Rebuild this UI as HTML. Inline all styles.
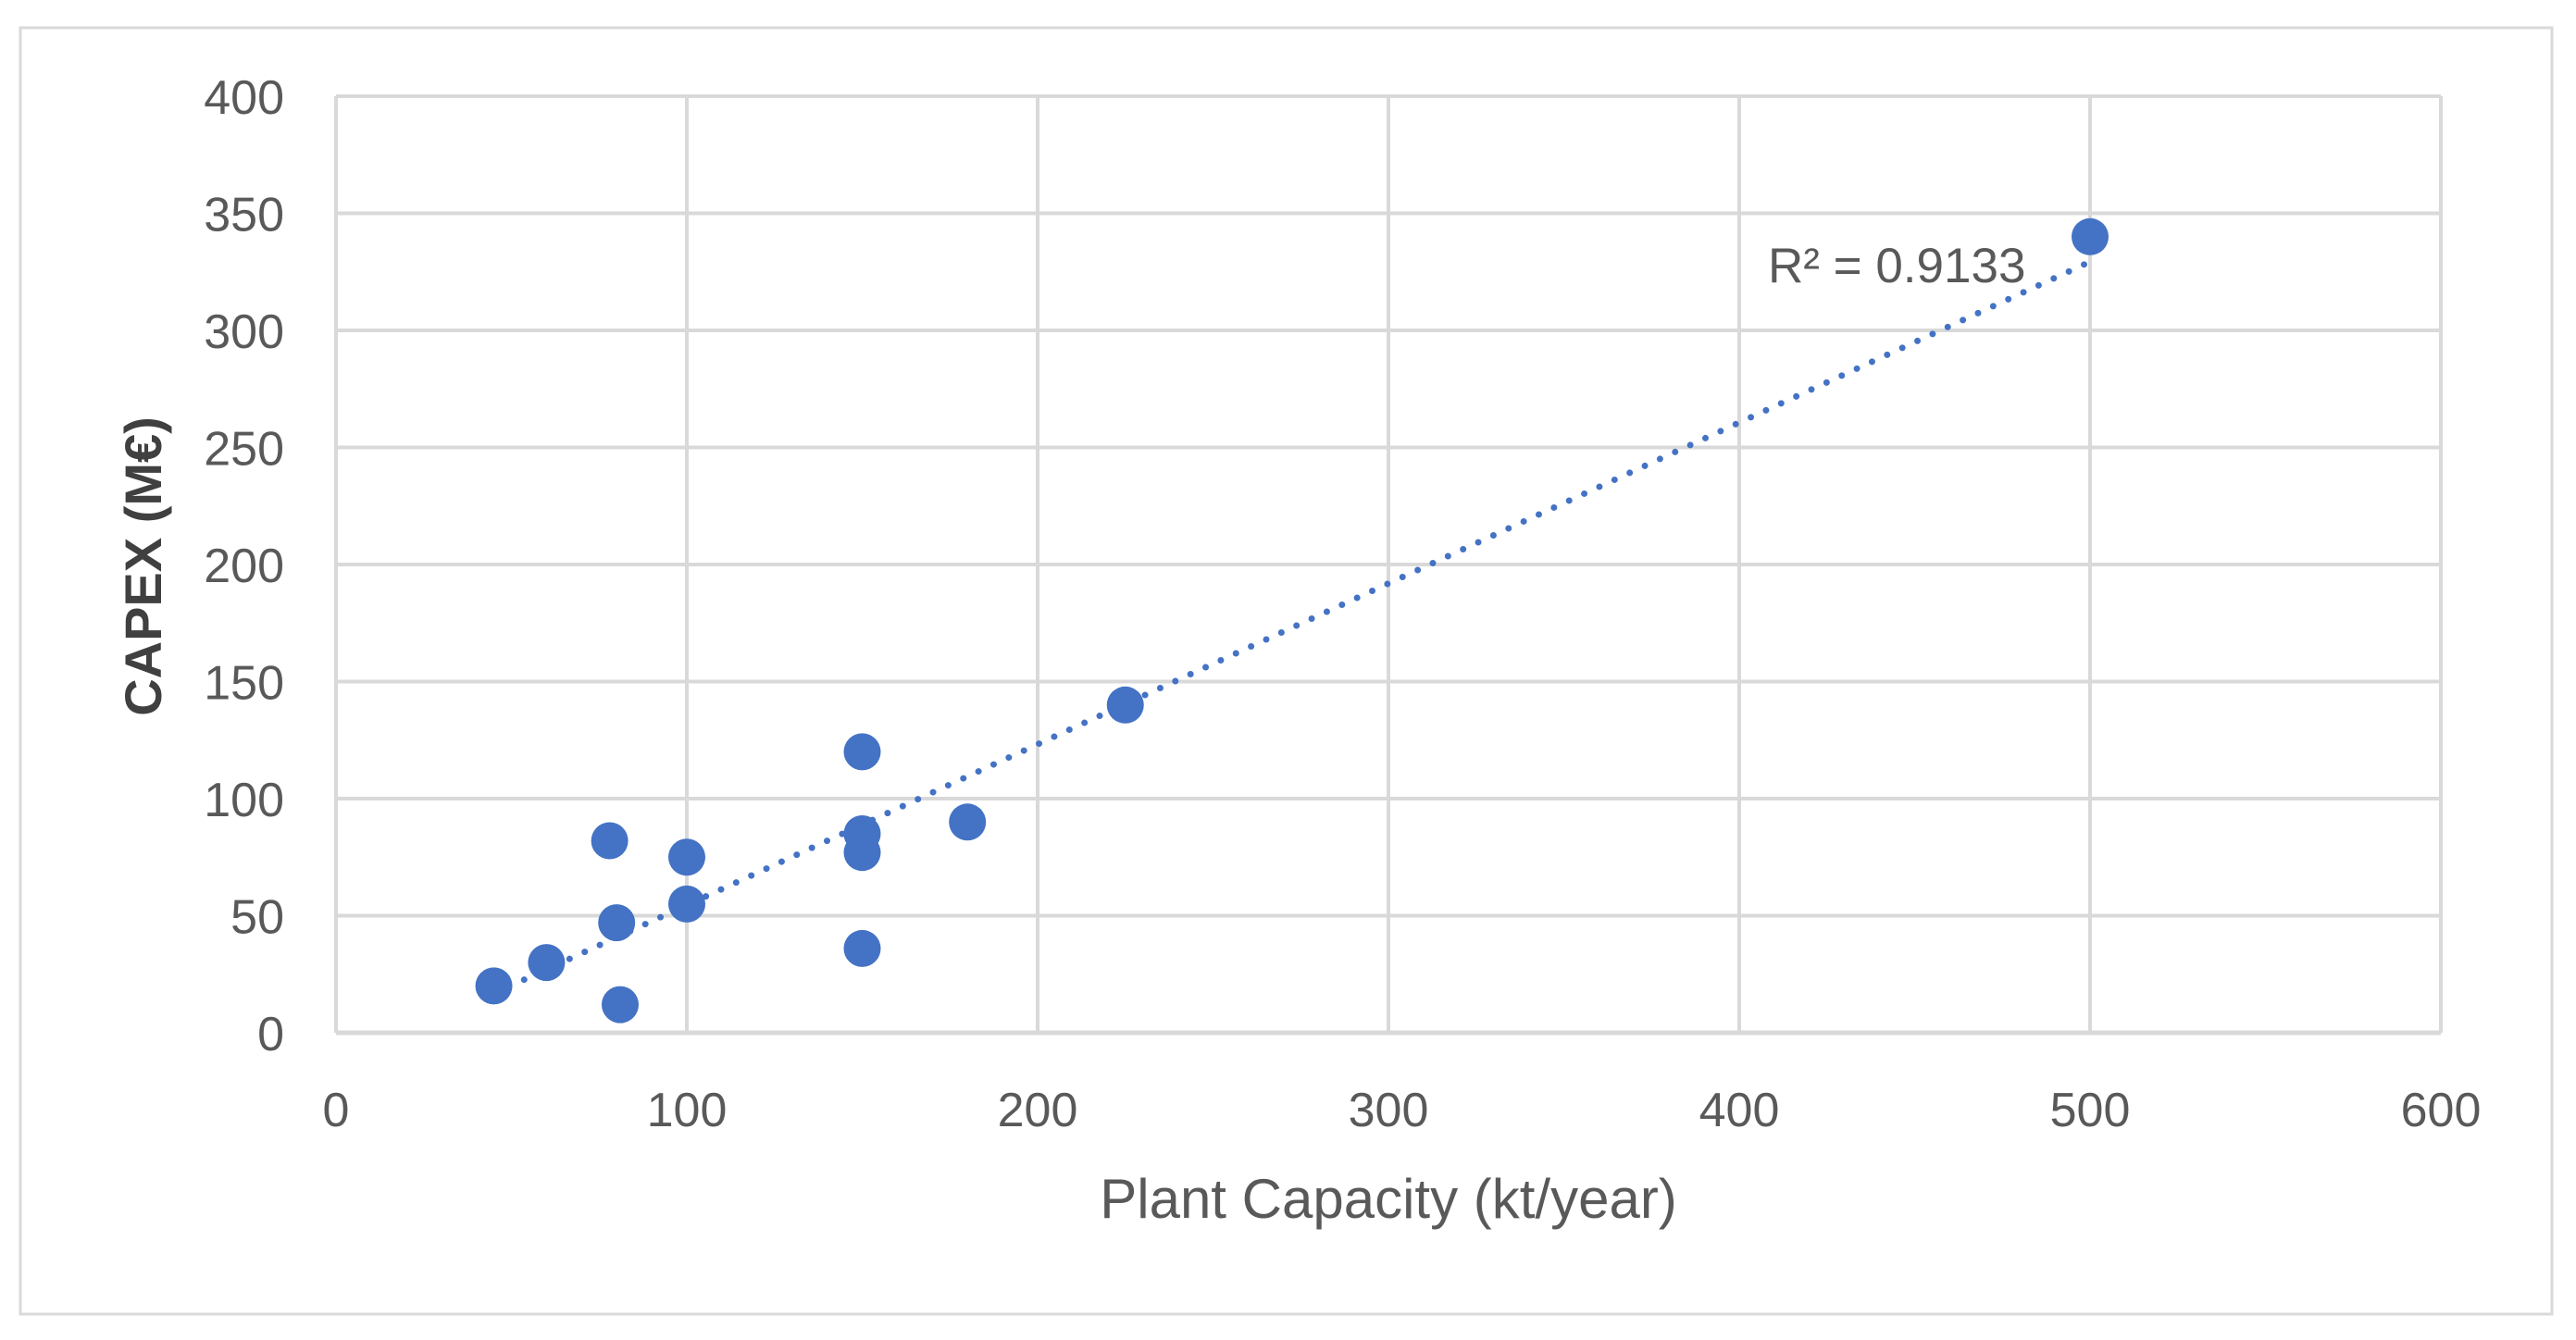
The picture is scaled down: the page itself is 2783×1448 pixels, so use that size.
<!DOCTYPE html>
<html><head><meta charset="utf-8"><style>
html,body{margin:0;padding:0;background:#fff;}
svg{display:block;}
text{font-family:"Liberation Sans",sans-serif;fill:#595959;}
</style></head><body>
<svg id="chart" width="2783" height="1448" viewBox="0 0 2783 1448">
<rect x="22" y="30" width="2735" height="1390" fill="#fff" stroke="#d9d9d9" stroke-width="3"/>
<g id="grid"></g>
<g id="ticks"></g>
<g id="trend"></g>
<g id="points"></g>
<text x="1500" y="1316" font-size="60" text-anchor="middle">Plant Capacity (kt/year)</text>
<text transform="translate(174,612) rotate(-90)" font-size="56" font-weight="bold" text-anchor="middle" style="fill:#404040">CAPEX (M€)</text>
<text x="1910" y="305" font-size="53">R² = 0.9133</text>
</svg>
<script>
const capacity = [45, 60, 78, 80, 81, 100, 100, 150, 150, 150, 150, 180, 225, 500];
const capex = [20, 30, 82, 47, 12, 75, 55, 120, 85, 77, 36, 90, 140, 340];
const xTicks = [0, 100, 200, 300, 400, 500, 600];
const yTicks = [0, 50, 100, 150, 200, 250, 300, 350, 400];

const NS = "http://www.w3.org/2000/svg";
const X0 = 363, X1 = 2637, Y0 = 1116, Y1 = 104;
const xs = v => X0 + (v - 0) / 600 * (X1 - X0);
const ys = v => Y0 - (v - 0) / 400 * (Y0 - Y1);
function mk(tag, attrs, parent) {
  const e = document.createElementNS(NS, tag);
  for (const k in attrs) e.setAttribute(k, attrs[k]);
  parent.appendChild(e);
  return e;
}
const grid = document.getElementById('grid');
const ticks = document.getElementById('ticks');
yTicks.forEach(v => {
  const l = mk('line', {x1: X0, x2: X1, y1: ys(v), y2: ys(v), stroke: '#d9d9d9', 'stroke-width': v === 0 ? 5 : 4}, grid);
  
  
  const t = mk('text', {x: 307, y: ys(v) + 19, 'font-size': 52, 'text-anchor': 'end'}, ticks);
  t.textContent = v;
  
  
});
xTicks.forEach(v => {
  const l = mk('line', {x1: xs(v), x2: xs(v), y1: Y1, y2: Y0, stroke: '#d9d9d9', 'stroke-width': 4}, grid);
  
  
  const t = mk('text', {x: xs(v), y: 1217, 'font-size': 52, 'text-anchor': 'middle'}, ticks);
  t.textContent = v;
  
  
});
// least squares trendline
const n = capacity.length;
const mx = capacity.reduce((a, b) => a + b, 0) / n;
const my = capex.reduce((a, b) => a + b, 0) / n;
let sxy = 0, sxx = 0;
for (let i = 0; i < n; i++) { sxy += (capacity[i] - mx) * (capex[i] - my); sxx += (capacity[i] - mx) ** 2; }
const slope = sxy / sxx, icpt = my - slope * mx;
const xmin = Math.min(...capacity), xmax = Math.max(...capacity);
const tl = mk('line', {x1: xs(xmin), y1: ys(slope * xmin + icpt), x2: xs(xmax), y2: ys(slope * xmax + icpt),
  stroke: '#4472c4', 'stroke-width': 7, 'stroke-dasharray': '0 18', 'stroke-linecap': 'round'}, document.getElementById('trend'));


const pts = document.getElementById('points');
capacity.forEach((c, i) => {
  const p = mk('circle', {cx: xs(c), cy: ys(capex[i]), r: 20, fill: '#4472c4'}, pts);
  
  
});
</script>
</body></html>
